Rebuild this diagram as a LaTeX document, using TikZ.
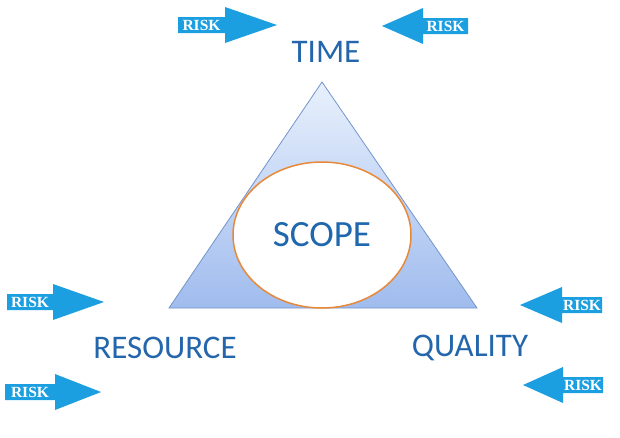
\documentclass[tikz,border=0pt]{standalone}
\usepackage{fontspec}
\setmainfont{Carlito}
\newfontfamily\riskfont{Liberation Serif}
\usepackage{tikz}
\usetikzlibrary{shapes.geometric}
\definecolor{tritop}{HTML}{E8F0FC}
\definecolor{tribot}{HTML}{A0BCEE}
\definecolor{triedge}{HTML}{7394CC}
\definecolor{scopeorange}{HTML}{E8893A}
\definecolor{scopeblue}{HTML}{1F67AE}
\definecolor{labelblue}{HTML}{2466AC}
\definecolor{riskblue}{HTML}{1C9FE0}

\begin{document}
\begin{tikzpicture}[x=1pt,y=-1pt,
  lbl/.style={text=labelblue,font=\fontsize{33}{33}\selectfont,inner sep=0pt},
  risktext/.style={text=white,inner sep=0pt,
    font=\riskfont\bfseries\fontsize{15.5}{15.5}\selectfont}]
  \useasboundingbox (0,0) rectangle (620,437);
  % triangle
  \coordinate (apex) at (322,82);
  \coordinate (bl) at (169,308);
  \coordinate (br) at (477,308);
  \shade[top color=tritop,bottom color=tribot,draw=triedge,line width=0.8pt]
    (apex) -- (br) -- (bl) -- cycle;
  \node[ellipse,draw=scopeorange,line width=1.5pt,fill=white,
    minimum width=178pt,minimum height=146pt,inner sep=0pt,text=scopeblue,
    font=\fontsize{37}{37}\selectfont] (scope) at (322,235) {SCOPE};
  % corner labels
  \node[lbl] (time) at (326,52) {TIME};
  \node[lbl] (resource) at (165,348) {RESOURCE};
  \node[lbl] (quality) at (470,348) {QUALITY};
  % risks: tail / head base / tip / y
  \foreach \name/\ta/\ba/\ti/\yy in {risk1/178/225/277/25,risk2/468/423/382/26,
      risk3/7/53/104/302,risk4/5/55/101/392,risk5/602/562/520/305,risk6/603/563/523/385} {
    \fill[riskblue] (\ta,\yy-8) -- (\ba,\yy-8) -- (\ba,\yy-18) -- (\ti,\yy)
      -- (\ba,\yy+18) -- (\ba,\yy+8) -- (\ta,\yy+8) -- cycle;
    \node[risktext] (\name) at ({(\ta+\ba)/2},\yy) {RISK};
  }
\end{tikzpicture}
\end{document}
